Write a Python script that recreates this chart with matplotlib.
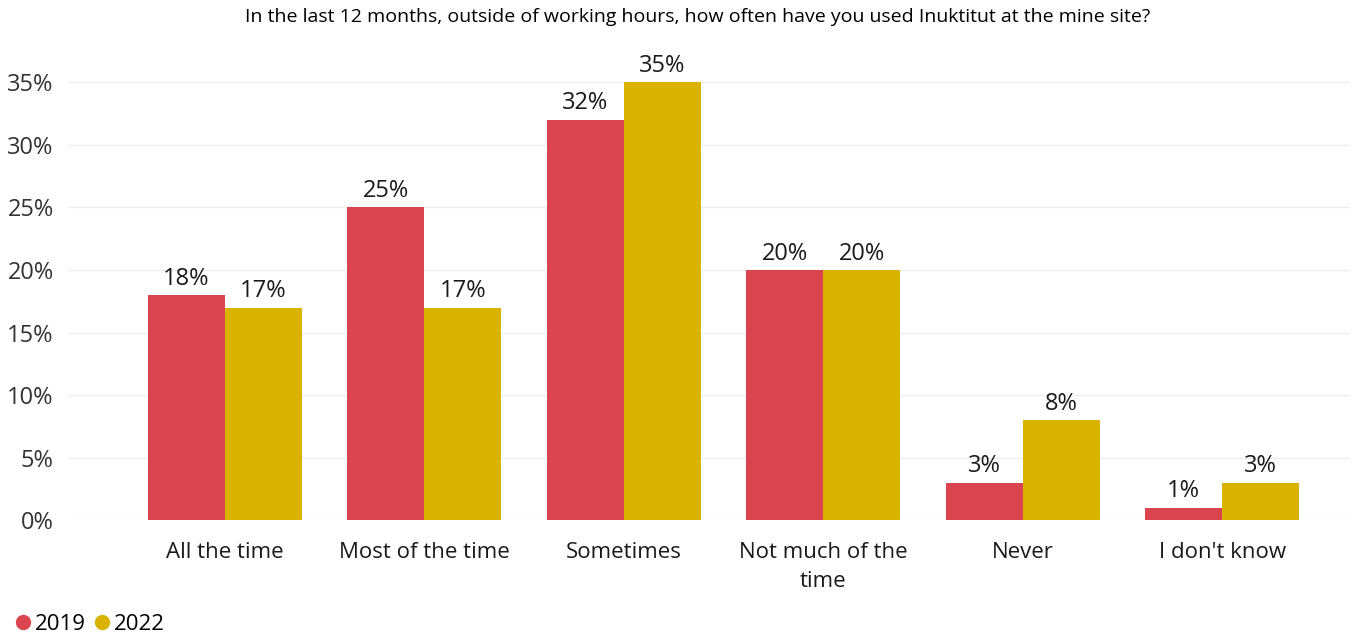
import numpy as np
import matplotlib.pyplot as plt
from matplotlib.lines import Line2D

plt.rcParams['font.family'] = ['Open Sans', 'DejaVu Sans']

categories = ['All the time', 'Most of the time', 'Sometimes', 'Not much of the\ntime', 'Never', "I don't know"]
vals_2019 = [18, 25, 32, 20, 3, 1]
vals_2022 = [17, 17, 35, 20, 8, 3]
yticks = [0, 5, 10, 15, 20, 25, 30, 35]

c2019 = '#D9444F'
c2022 = '#D9B300'

fig = plt.figure(figsize=(13.54, 6.36), dpi=100)
ax = fig.add_axes([0.050, 0.182, 0.947, 0.728])

x = np.arange(len(categories))
w = 0.386
b1 = ax.bar(x - w / 2, vals_2019, w, color=c2019, zorder=2)
b2 = ax.bar(x + w / 2, vals_2022, w, color=c2022, zorder=2)

for bars, vals in ((b1, vals_2019), (b2, vals_2022)):
    for bar, v in zip(bars, vals):
        ax.text(bar.get_x() + bar.get_width() / 2, v + 0.35, f"{v}%",
                ha='center', va='bottom', fontsize=17, color='#1a1a1a')

ax.set_xlim(-0.787, 5.64)
ax.set_ylim(0, 37)
ax.set_yticks(yticks)
ax.set_yticklabels([f"{t}%" for t in yticks], fontsize=17, color='#333333')
ax.set_xticks(x)
ax.set_xticklabels(categories, fontsize=16, color='#1a1a1a', linespacing=1.45)
ax.tick_params(axis='y', length=0, pad=10)
ax.tick_params(axis='x', length=0, pad=16)
ax.yaxis.grid(True, color='#EEEEEE', linewidth=1, zorder=0)
ax.set_axisbelow(True)
for s in ax.spines.values():
    s.set_visible(False)

fig.text(0.515, 0.973, 'In the last 12 months, outside of working hours, how often have you used Inuktitut at the mine site?',
         ha='center', va='center', fontsize=14, color='#000000', fontweight='medium')

handles = [Line2D([], [], marker='o', linestyle='', color=c2019, markersize=10),
           Line2D([], [], marker='o', linestyle='', color=c2022, markersize=10)]
fig.legend(handles, ['2019', '2022'], loc='lower left', bbox_to_anchor=(-0.006, -0.03),
           ncol=2, frameon=False, fontsize=16, handletextpad=0.05, columnspacing=0.2,
           handlelength=1.0)

fig.savefig('out.png', dpi=100)
